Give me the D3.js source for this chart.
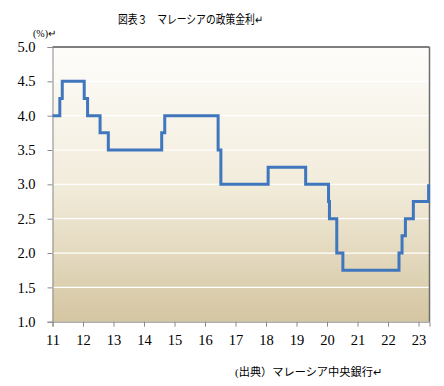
<!DOCTYPE html>
<html>
<head>
<meta charset="utf-8">
<script src="https://cdn.jsdelivr.net/npm/d3@7"></script>
<style>
  html, body { margin: 0; padding: 0; background: #fff; }
  svg { display: block; }
  .serif { font-family: "Liberation Serif", "DejaVu Serif", serif; }
  .jp { font-family: "Liberation Serif", "Noto Sans CJK JP", serif; }
</style>
</head>
<body>
<svg id="chart" width="444" height="386"></svg>
<script>
// rate changes: [year (20xx, fractional), rate %]
const stepTimes = [11.0, 11.24, 11.32, 12.04, 12.15, 12.56, 12.83, 14.58, 14.68, 16.43, 16.52,
  18.07, 19.30, 20.05, 20.08, 20.32, 20.52, 22.36, 22.46, 22.57, 22.83, 23.33]
const stepRates = [4.0, 4.25, 4.5, 4.25, 4.0, 3.75, 3.5, 3.75, 4.0, 3.5, 3.0,
  3.25, 3.0, 2.75, 2.5, 2.0, 1.75, 2.0, 2.25, 2.5, 2.75, 3.0]
const xTicks = [11, 12, 13, 14, 15, 16, 17, 18, 19, 20, 21, 22, 23]
const yTicks = [1.0, 1.5, 2.0, 2.5, 3.0, 3.5, 4.0, 4.5, 5.0]
const xEnd = 23.36

const W = 444, H = 386
const M = { left: 52.5, right: 429.5, top: 47, bottom: 321.7 }
const svg = d3.select('#chart')

const x = d3.scaleLinear().domain([11, xEnd]).range([M.left, M.right])
const y = d3.scaleLinear().domain([1, 5]).range([M.bottom, M.top])

// background gradient
const grad = svg.append('defs').append('linearGradient').attr('id', 'bg')
  .attr('x1', 0).attr('y1', 0).attr('x2', 0).attr('y2', 1)
grad.append('stop').attr('offset', '0%').attr('stop-color', '#fefdfb')
grad.append('stop').attr('offset', '50%').attr('stop-color', '#f2ecdb')
grad.append('stop').attr('offset', '100%').attr('stop-color', '#d5c6a2')

svg.append('rect').attr('x', M.left).attr('y', M.top)
  .attr('width', M.right - M.left).attr('height', M.bottom - M.top)
  .attr('fill', 'url(#bg)')

// gridlines
svg.append('g').selectAll('line').data(yTicks.filter(v => v > 1 && v < 5)).enter().append('line')
  .attr('x1', M.left).attr('x2', M.right)
  .attr('y1', d => y(d)).attr('y2', d => y(d))
  .attr('stroke', '#ffffff').attr('stroke-width', 1.2)

// frame: top black, right dark gray
svg.append('line').attr('x1', M.left).attr('x2', M.right).attr('y1', M.top).attr('y2', M.top)
  .attr('stroke', '#000').attr('stroke-width', 1)
svg.append('line').attr('x1', M.right).attr('x2', M.right).attr('y1', M.top).attr('y2', M.bottom)
  .attr('stroke', '#6e6e6e').attr('stroke-width', 1.5)

// axes
const yAxis = d3.axisLeft(y).tickValues(yTicks).tickFormat(d3.format('.1f')).tickSizeOuter(0).tickSize(5).tickPadding(12)
const gy = svg.append('g').attr('transform', `translate(${M.left},0)`).call(yAxis)
gy.select('.domain').attr('stroke', '#8a8a8a')
gy.selectAll('.tick line').attr('stroke', '#8a8a8a')
gy.selectAll('text').attr('class', 'serif').attr('font-size', 14.5).attr('fill', '#000')

const xAxis = d3.axisBottom(x).tickValues(xTicks).tickFormat(d3.format('d')).tickSizeOuter(0).tickSize(5).tickPadding(8)
const gx = svg.append('g').attr('transform', `translate(0,${M.bottom})`).call(xAxis)
gx.select('.domain').attr('stroke', '#8a8a8a')
gx.selectAll('.tick line').attr('stroke', '#8a8a8a')
gx.selectAll('text').attr('class', 'serif').attr('font-size', 14.5).attr('fill', '#000')

// step line
const pts = stepTimes.map((t, i) => [t, stepRates[i]])
pts.push([xEnd - 0.03, stepRates[stepRates.length - 1]])
const line = d3.line().x(d => x(d[0])).y(d => y(d[1])).curve(d3.curveStepAfter)
svg.append('path').datum(pts).attr('d', line)
  .attr('fill', 'none').attr('stroke', '#3f76bd').attr('stroke-width', 3)
  .attr('stroke-linejoin', 'miter')

// texts
svg.append('text').attr('class', 'jp').attr('x', 118).attr('y', 24)
  .attr('font-size', 12).attr('fill', '#000')
  .attr('textLength', 145).attr('lengthAdjust', 'spacingAndGlyphs')
  .text('図表３　マレーシアの政策金利↵')
svg.append('text').attr('class', 'jp').attr('x', 33).attr('y', 37)
  .attr('font-size', 10).attr('fill', '#000').text('(%)↵')
svg.append('text').attr('class', 'jp').attr('x', 235).attr('y', 376)
  .attr('font-size', 11).attr('fill', '#000')
  .attr('textLength', 147).attr('lengthAdjust', 'spacingAndGlyphs')
  .text('(出典）マレーシア中央銀行↵')
</script>
</body>
</html>
